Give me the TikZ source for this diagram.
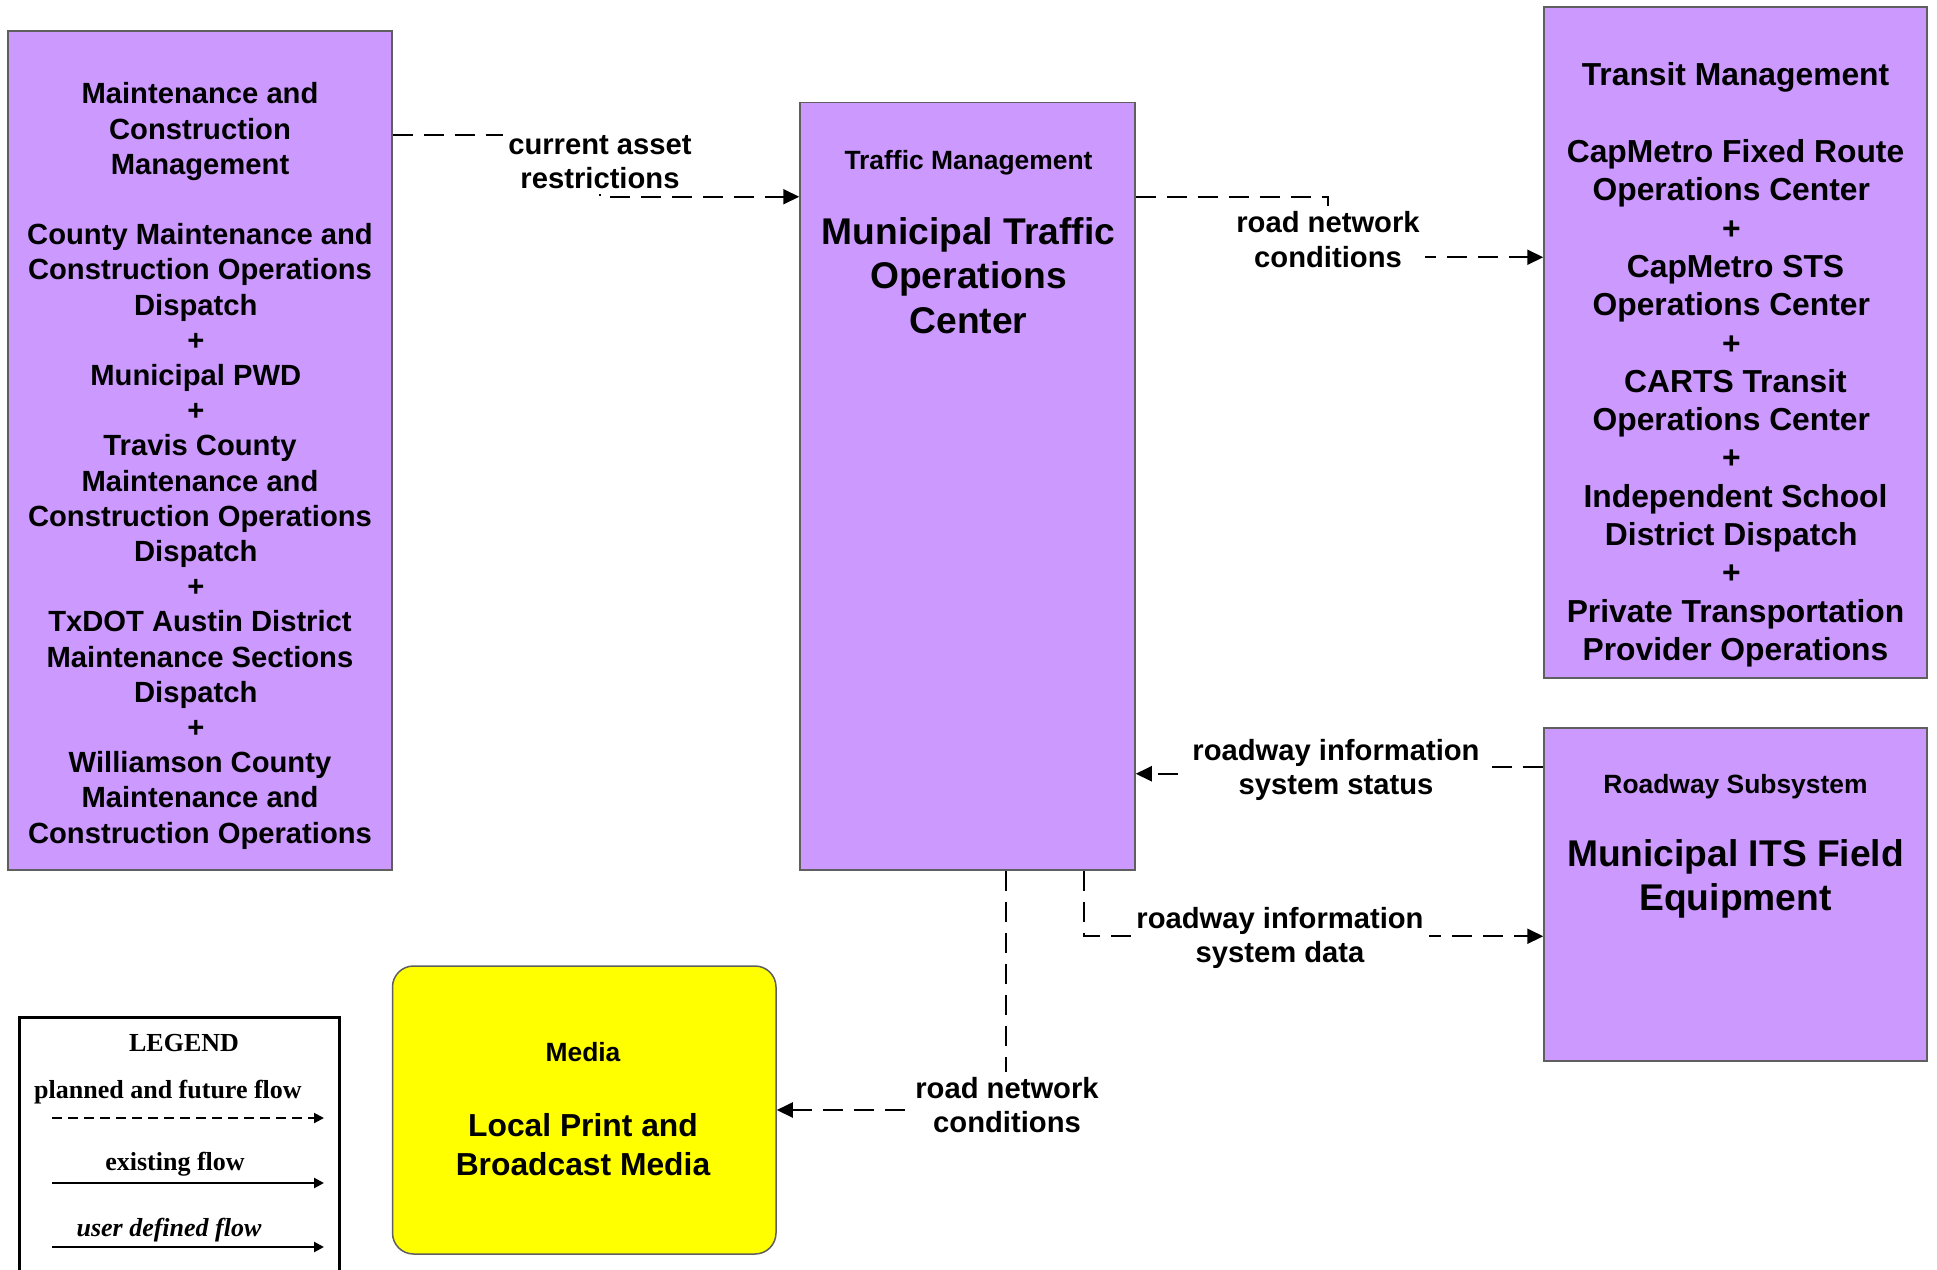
\documentclass[tikz,border=0pt]{standalone}
\usepackage{fontspec}
\setmainfont{Liberation Sans}
\newfontfamily\legendfont{Liberation Serif}
\usetikzlibrary{arrows.meta,backgrounds}

\definecolor{sysfill}{HTML}{CC99FF}
\definecolor{mediafill}{HTML}{FFFF00}
\definecolor{sysline}{HTML}{5F5F5F}

\newcommand\trail{\hbox to 4.2pt{}}

\tikzset{
  sysbox/.style={draw=sysline, line width=0.75pt, fill=sysfill, inner sep=0pt},
  mediabox/.style={sysbox, fill=mediafill, rounded corners=10.5pt},
  bodytext/.style={font=\bfseries\fontsize{14.6}{17.6}\selectfont, align=center, inner sep=0pt},
  listtext/.style={font=\bfseries\fontsize{15.9}{19.15}\selectfont, align=center, inner sep=0pt},
  bigtext/.style={font=\bfseries\fontsize{18.6}{22.2}\selectfont, align=center, inner sep=0pt},
  headtext/.style={font=\bfseries\fontsize{13.2}{15.8}\selectfont, inner sep=0pt},
  flowlabel/.style={font=\bfseries\fontsize{14.6}{17.3}\selectfont, align=center, fill=white, inner sep=2.5pt},
  flow/.style={line width=1pt, dash pattern=on 10pt off 5.5pt, -{Triangle[length=8pt,width=7.5pt]}},
  legendtext/.style={font=\legendfont\bfseries\fontsize{13}{15}\selectfont, inner sep=0pt},
  legendarrow/.style={line width=1.2pt, -{Triangle[length=5pt,width=5pt]}}
}

\begin{document}
\begin{tikzpicture}[x=0.5pt,y=-0.5pt]
\useasboundingbox (0,0) rectangle (1937,1269);

\node[sysbox, minimum width=192pt, minimum height=419.5pt] (mcm) at (200,450.5) {};
\node[sysbox, minimum width=167.5pt, minimum height=383.75pt] (tmc) at (967.5,486.25) {};
\node[sysbox, minimum width=191.5pt, minimum height=335.5pt] (tsm) at (1735.5,342.5) {};
\node[sysbox, minimum width=191.5pt, minimum height=166.5pt] (rsf) at (1735.5,894.5) {};
\node[mediabox, minimum width=191.75pt, minimum height=144pt] (med) at (584.25,1110) {};

\node[bodytext] (mcmtext) at (200,466) {Maintenance and\\Construction\\Management\\[17.6pt]
  County Maintenance and\\Construction Operations\\Dispatch\trail\\+\trail\\Municipal PWD\trail\\+\trail\\
  Travis County\\Maintenance and\\Construction Operations\\Dispatch\trail\\+\trail\\
  TxDOT Austin District\\Maintenance Sections\\Dispatch\trail\\+\trail\\
  Williamson County\\Maintenance and\\Construction Operations};

\node[headtext] (tmchead) at (968.5,163) {Traffic Management};
\node[bigtext] (tmctext) at (968.5,275.5) {Municipal Traffic\\Operations\\Center};

\node[listtext] (tsmtext) at (1735.5,365) {Transit Management\\[19.15pt]
  CapMetro Fixed Route\\Operations Center\trail\\+\trail\\CapMetro STS\\Operations Center\trail\\+\trail\\
  CARTS Transit\\Operations Center\trail\\+\trail\\Independent School\\District Dispatch\trail\\+\trail\\
  Private Transportation\\Provider Operations};

\node[headtext] (rsfhead) at (1735.5,787) {Roadway Subsystem};
\node[bigtext] (rsftext) at (1735.5,879) {Municipal ITS Field\\Equipment};

\node[headtext] (medhead) at (583,1052) {Media};
\node[listtext] (medtext) at (583,1144.5) {Local Print and\\Broadcast Media};

\node[flowlabel] (lcar) at (600,162) {current asset\\restrictions};
\node[flowlabel] (lrnc1) at (1328,239.5) {road network\\conditions};
\node[flowlabel] (lris) at (1336,770) {roadway information\\system status};
\node[flowlabel] (lrid) at (1280,938) {roadway information\\system data};
\node[flowlabel] (lrnc2) at (1007,1105) {road network\\conditions};

\begin{scope}[on background layer]
\draw[flow] ([yshift=-52.5pt]mcm.north east) -| (lcar.center) |- ([yshift=-47.5pt]tmc.north west);
\draw[flow] ([yshift=-47.5pt]tmc.north east) -| (lrnc1.center) |- ([yshift=-125.5pt]tsm.north west);
\draw[flow] ([yshift=-20pt]rsf.north west) -| (lris.center) |- ([yshift=48.5pt]tmc.south east);
\draw[flow] ([xshift=142.25pt]tmc.south west) |- ([yshift=-104.5pt]rsf.north west);
\draw[flow] ([xshift=103.5pt]tmc.south west) |- (med.east);
\end{scope}

\draw[line width=1.5pt] (19,1017) rectangle (339,1300);
\node[legendtext] (legtitle) at (184,1043) {LEGEND};
\node[legendtext] (legplanned) at (168,1092.5) {planned and future flow};
\node[legendtext] (legexisting) at (175,1164.5) {existing flow};
\node[legendtext, font=\legendfont\bfseries\itshape\fontsize{13}{15}\selectfont] (leguser) at (169,1230.5) {user defined flow};
\draw[legendarrow, line width=1pt, dash pattern=on 5pt off 3pt] (52,1118) -- (324,1118);
\foreach \y in {1183,1247}
  {\draw[legendarrow] (52,\y) -- (324,\y);}

\end{tikzpicture}
\end{document}
